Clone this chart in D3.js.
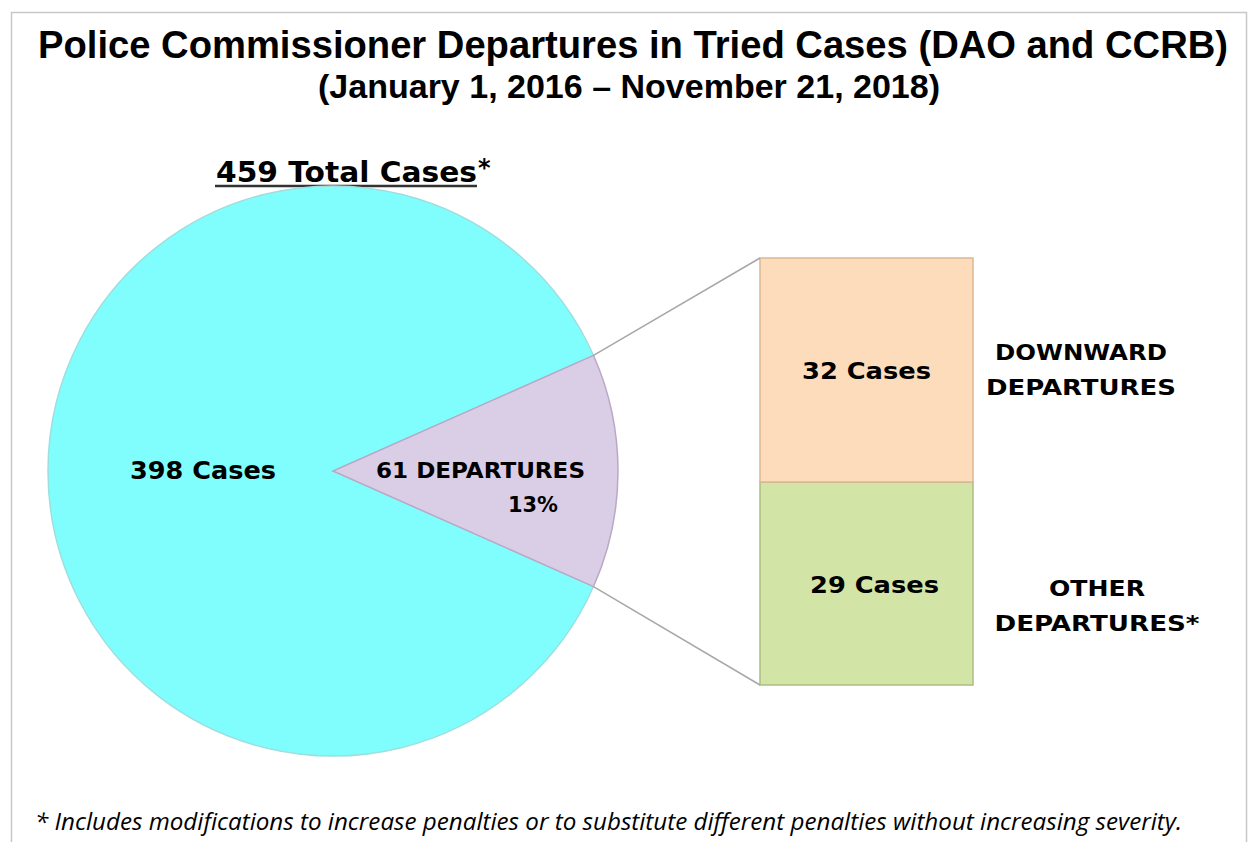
<!DOCTYPE html>
<html>
<head>
<meta charset="utf-8">
<script src="https://cdn.jsdelivr.net/npm/d3@7"></script>
<style>
  body { margin: 0; background: #fff; }
  svg text { font-family: "DejaVu Sans", Verdana, sans-serif; font-weight: bold; fill: #000; }
</style>
</head>
<body>
<div class="chart"></div>
<script>
let FRAME_WIDTH = 1248;
let FRAME_HEIGHT = 842;

// pie data
const PIE_LABELS = ["398 Cases", "61 DEPARTURES"];
const PIE_VALUES = [398, 61];
const PIE_COLORS = ["#80fefe", "#dacde6"];

// bar data (bottom to top)
const BAR_LABELS = ["29 Cases", "32 Cases"];
const BAR_VALUES = [29, 32];
const BAR_COLORS = ["#d3e5a6", "#fddcbb"];
const BAR_NAMES = [["OTHER", "DEPARTURES*"], ["DOWNWARD", "DEPARTURES"]];

const TOTAL = d3.sum(PIE_VALUES);

let FRAME = d3.select(".chart")
              .append("svg")
              .attr("width", FRAME_WIDTH)
              .attr("height", FRAME_HEIGHT);

// light frame around everything
FRAME.append("rect")
     .attr("x", 11.5).attr("y", 12.5)
     .attr("width", 1235).attr("height", 860)
     .attr("fill", "none")
     .attr("stroke", "#c8c8c8")
     .attr("stroke-width", 1.5);

// titles (narrow look: smaller font stretched vertically)
FRAME.append("text")
     .attr("transform", "translate(633,58) scale(1,1.2)")
     .attr("text-anchor", "middle")
     .attr("textLength", 1190).attr("lengthAdjust", "spacingAndGlyphs")
     .style("font-family", "'Liberation Sans', Arial, sans-serif")
     .style("font-size", "33px")
     .text("Police Commissioner Departures in Tried Cases (DAO and CCRB)");

FRAME.append("text")
     .attr("transform", "translate(629,98) scale(1,1.2)")
     .attr("text-anchor", "middle")
     .attr("textLength", 622).attr("lengthAdjust", "spacingAndGlyphs")
     .style("font-family", "'Liberation Sans', Arial, sans-serif")
     .style("font-size", "28px")
     .text("(January 1, 2016 \u2013 November 21, 2018)");

// total cases header
FRAME.append("text")
     .attr("x", 216).attr("y", 182)
     .attr("textLength", 261).attr("lengthAdjust", "spacingAndGlyphs")
     .style("font-size", "29px")
     .text(TOTAL + " Total Cases");
FRAME.append("text")
     .attr("x", 478).attr("y", 176)
     .style("font-size", "24px")
     .text("*");
FRAME.append("line")
     .attr("x1", 215).attr("x2", 477)
     .attr("y1", 186).attr("y2", 186)
     .attr("stroke", "#333").attr("stroke-width", 2.5);

// pie
const CX = 333, CY = 471, R = 285;
const depAngle = PIE_VALUES[1] / TOTAL * 2 * Math.PI;

const pie = d3.pie().sort(null)
              .startAngle(Math.PI / 2 + depAngle / 2)
              .endAngle(Math.PI / 2 + depAngle / 2 + 2 * Math.PI);
const arc = d3.arc().innerRadius(0).outerRadius(R);

const PIE_G = FRAME.append("g").attr("transform", "translate(" + CX + "," + CY + ")");

const arcs = pie(PIE_VALUES);
PIE_G.selectAll("path")
     .data(arcs)
     .enter()
     .append("path")
       .attr("d", arc)
       .attr("fill", (d, i) => PIE_COLORS[i])
       .attr("stroke", (d, i) => i == 0 ? "#9fdede" : "#b8a9c6")
       .attr("stroke-width", 1.5);

// pie labels
FRAME.append("text")
     .attr("x", 130).attr("y", 479)
     .attr("textLength", 146).attr("lengthAdjust", "spacingAndGlyphs")
     .style("font-size", "24px")
     .text(PIE_LABELS[0]);
FRAME.append("text")
     .attr("x", 376).attr("y", 478)
     .attr("textLength", 209).attr("lengthAdjust", "spacingAndGlyphs")
     .style("font-size", "21px")
     .text(PIE_LABELS[1]);
FRAME.append("text")
     .attr("x", 508).attr("y", 512)
     .attr("textLength", 50).attr("lengthAdjust", "spacingAndGlyphs")
     .style("font-size", "21px")
     .text(Math.round(PIE_VALUES[1] / TOTAL * 100) + "%");

// stacked bar
const BAR_X = 760, BAR_W = 213;
const Y_SCALE = d3.scaleLinear()
                  .domain([0, d3.sum(BAR_VALUES)])
                  .range([685, 258]);

let stacked = [];
let run = 0;
BAR_VALUES.forEach((v, i) => { stacked.push({y0: run, y1: run + v, i: i}); run += v; });

FRAME.selectAll(".bar")
     .data(stacked)
     .enter()
     .append("rect")
       .attr("class", "bar")
       .attr("x", BAR_X)
       .attr("y", (d) => Y_SCALE(d.y1))
       .attr("width", BAR_W)
       .attr("height", (d) => Y_SCALE(d.y0) - Y_SCALE(d.y1))
       .attr("fill", (d) => BAR_COLORS[d.i])
       .attr("stroke", (d) => d.i == 0 ? "#a9be80" : "#dcb895")
       .attr("stroke-width", 1.5);

FRAME.selectAll(".bar-label")
     .data(stacked)
     .enter()
     .append("text")
       .attr("class", "bar-label")
       .attr("x", (d) => BAR_X + BAR_W / 2 + (d.i == 0 ? 8 : 0))
       .attr("y", (d) => (Y_SCALE(d.y0) + Y_SCALE(d.y1)) / 2 + 9)
       .attr("text-anchor", "middle")
       .attr("textLength", 129).attr("lengthAdjust", "spacingAndGlyphs")
       .style("font-size", "23px")
       .text((d) => BAR_LABELS[d.i]);

// category names beside the bar
const NAME_WIDTHS = [[96, 205], [172, 190]];
stacked.forEach((d) => {
    const mid = (Y_SCALE(d.y0) + Y_SCALE(d.y1)) / 2;
    const cx = d.i == 0 ? 1097 : 1081;
    const off = d.i == 0 ? 12 : -10;
    BAR_NAMES[d.i].forEach((t, j) => {
        FRAME.append("text")
             .attr("x", cx).attr("y", mid + off + j * 35)
             .attr("text-anchor", "middle")
             .attr("textLength", NAME_WIDTHS[d.i][j]).attr("lengthAdjust", "spacingAndGlyphs")
             .style("font-size", "22px")
             .text(t);
    });
});

// connector lines from slice edges to bar corners
const a0 = Math.PI / 2 - depAngle / 2;
const a1 = Math.PI / 2 + depAngle / 2;
const connectors = [
    {x1: CX + R * Math.sin(a0), y1: CY - R * Math.cos(a0), x2: BAR_X, y2: Y_SCALE(d3.sum(BAR_VALUES))},
    {x1: CX + R * Math.sin(a1), y1: CY - R * Math.cos(a1), x2: BAR_X, y2: Y_SCALE(0)}
];
FRAME.selectAll(".conn")
     .data(connectors)
     .enter()
     .append("line")
       .attr("x1", (d) => d.x1).attr("y1", (d) => d.y1)
       .attr("x2", (d) => d.x2).attr("y2", (d) => d.y2)
       .attr("stroke", "#a8a8a8")
       .attr("stroke-width", 1.5);

// footnote
FRAME.append("text")
     .attr("x", 35).attr("y", 830)
     .attr("textLength", 1147).attr("lengthAdjust", "spacingAndGlyphs")
     .style("font-family", "'Open Sans', 'Noto Sans', sans-serif")
     .style("font-weight", "normal")
     .style("font-style", "italic")
     .style("font-size", "24px")
     .text("* Includes modifications to increase penalties or to substitute different penalties without increasing severity.");
</script>
</body>
</html>
